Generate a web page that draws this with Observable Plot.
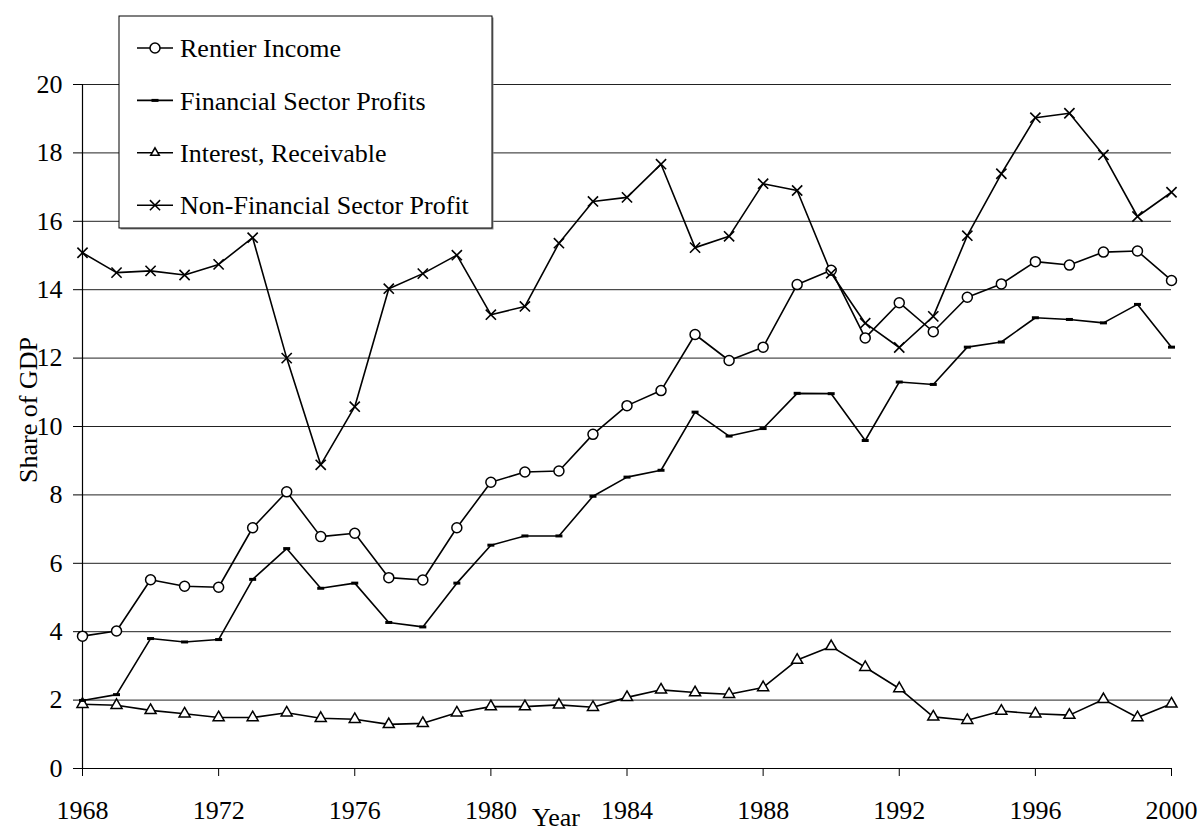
<!DOCTYPE html>
<html><head><meta charset="utf-8">
<script src="https://cdn.jsdelivr.net/npm/d3@7"></script>
<script src="https://cdn.jsdelivr.net/npm/@observablehq/plot@0.6"></script>
<style>
body{margin:0;background:#fff}
#chart svg{display:block}
</style>
</head><body><div id="chart"></div>
<script>
const years = d3.range(1968, 2001);
const rentier = [3.87, 4.02, 5.52, 5.33, 5.30, 7.04, 8.09, 6.78, 6.88, 5.58, 5.51, 7.04, 8.37, 8.67, 8.70, 9.77, 10.61, 11.05, 12.69, 11.93, 12.32, 14.15, 14.57, 12.59, 13.62, 12.77, 13.78, 14.17, 14.82, 14.72, 15.10, 15.13, 14.27];
const financial = [1.99, 2.16, 3.80, 3.70, 3.77, 5.53, 6.43, 5.27, 5.42, 4.27, 4.14, 5.42, 6.53, 6.80, 6.80, 7.96, 8.52, 8.72, 10.42, 9.72, 9.94, 10.97, 10.96, 9.59, 11.30, 11.23, 12.32, 12.47, 13.18, 13.13, 13.03, 13.57, 12.32];
const interest = [1.88, 1.85, 1.70, 1.60, 1.49, 1.49, 1.63, 1.47, 1.44, 1.29, 1.32, 1.63, 1.81, 1.81, 1.86, 1.79, 2.08, 2.30, 2.22, 2.17, 2.37, 3.17, 3.57, 2.96, 2.34, 1.51, 1.41, 1.68, 1.60, 1.56, 2.02, 1.49, 1.89];
const nonFinancial = [15.08, 14.50, 14.55, 14.43, 14.74, 15.52, 12.00, 8.88, 10.58, 14.03, 14.47, 15.01, 13.27, 13.51, 15.36, 16.58, 16.70, 17.67, 15.23, 15.56, 17.10, 16.90, 14.48, 13.02, 12.31, 13.22, 15.58, 17.39, 19.03, 19.16, 17.94, 16.14, 16.85];
const seriesNames = ["Rentier Income", "Financial Sector Profits", "Interest, Receivable", "Non-Financial Sector Profit"];
const xTicks = [1968, 1972, 1976, 1980, 1984, 1988, 1992, 1996, 2000];
const yTicks = [0, 2, 4, 6, 8, 10, 12, 14, 16, 18, 20];
const xTitle = "Year";
const yTitle = "Share of GDP";

const rows = years.map((year, i) => ({year, rentier: rentier[i], financial: financial[i], interest: interest[i], nonFinancial: nonFinancial[i]}));

const dash = {draw(ctx) { ctx.rect(-3.5, -1.5, 7, 3); }};
const FONT = "Liberation Serif, Times New Roman, serif";

const svg = Plot.plot({
  width: 1199,
  height: 830,
  marginLeft: 82,
  marginRight: 28,
  marginTop: 84,
  marginBottom: 62,
  style: {fontFamily: FONT, fontSize: "26px", color: "black", background: "white", overflow: "visible"},
  x: {domain: [1968, 2000]},
  y: {domain: [0, 20]},
  marks: [
    Plot.ruleY(yTicks.filter(d => d > 0), {stroke: "#222", strokeWidth: 1}),
    Plot.ruleY([0], {stroke: "black", strokeWidth: 1.2}),
    Plot.ruleX([1968], {y1: 0, y2: 20, stroke: "black", strokeWidth: 1.2}),
    Plot.axisY({ticks: yTicks, tickSize: 9, tickPadding: 11, label: null, fontSize: 26, stroke: "black"}),
    Plot.axisX({ticks: xTicks, tickFormat: d => String(d), tickSize: 8, tickPadding: 24, label: null, fontSize: 26, stroke: "black"}),
    Plot.line(rows, {x: "year", y: "interest", stroke: "black", strokeWidth: 1.6}),
    Plot.line(rows, {x: "year", y: "financial", stroke: "black", strokeWidth: 1.6}),
    Plot.line(rows, {x: "year", y: "rentier", stroke: "black", strokeWidth: 1.6}),
    Plot.line(rows, {x: "year", y: "nonFinancial", stroke: "black", strokeWidth: 1.6}),
    Plot.dot(rows, {x: "year", y: "interest", symbol: "triangle", r: 4.1, stroke: "black", fill: "white", strokeWidth: 1.5}),
    Plot.dot(rows, {x: "year", y: "financial", symbol: dash, r: 3, fill: "black", stroke: null}),
    Plot.dot(rows, {x: "year", y: "rentier", symbol: "circle", r: 5, stroke: "black", fill: "white", strokeWidth: 1.5}),
    Plot.dot(rows, {x: "year", y: "nonFinancial", symbol: "times", r: 4.7, stroke: "black", strokeWidth: 1.6})
  ]
});

const s = d3.select(svg);
s.append("text")
  .attr("transform", "translate(37,410) rotate(-90)")
  .attr("text-anchor", "middle")
  .attr("font-family", FONT).attr("font-size", 26).attr("fill", "black")
  .text(yTitle);
s.append("text")
  .attr("x", 556).attr("y", 826)
  .attr("text-anchor", "middle")
  .attr("font-family", FONT).attr("font-size", 26).attr("fill", "black")
  .text(xTitle);

// legend
const lg = s.append("g").attr("transform", "translate(119,16)");
lg.append("rect").attr("x", 1.5).attr("y", 1.5).attr("width", 373).attr("height", 212).attr("fill", "#8a8a8a");
lg.append("rect").attr("x", 0).attr("y", 0).attr("width", 373).attr("height", 212).attr("fill", "white").attr("stroke", "black").attr("stroke-width", 1);
const symbolDefs = [
  {type: d3.symbolCircle, size: Math.PI * 25, fill: "white", stroke: "black"},
  {type: dash, size: 10, fill: "black", stroke: "none"},
  {type: d3.symbolTriangle2, size: Math.PI * 4.1 * 4.1, fill: "white", stroke: "black"},
  {type: d3.symbolTimes, size: Math.PI * 4.7 * 4.7, fill: "none", stroke: "black"}
];
seriesNames.forEach((name, i) => {
  const cy = 32 + i * 52.4;
  const g = lg.append("g").attr("transform", `translate(0,${cy})`);
  g.append("line").attr("x1", 18).attr("x2", 54).attr("stroke", "black").attr("stroke-width", 1.6);
  g.append("path").attr("transform", "translate(36,0)")
    .attr("d", d3.symbol().type(symbolDefs[i].type).size(symbolDefs[i].size)())
    .attr("fill", symbolDefs[i].fill).attr("stroke", symbolDefs[i].stroke).attr("stroke-width", 1.5);
  g.append("text").attr("x", 61).attr("dy", "0.35em")
    .attr("text-anchor", "start")
    .attr("font-family", FONT).attr("font-size", 26).attr("fill", "black")
    .text(name);
});

document.getElementById("chart").appendChild(svg);
</script>
</body></html>
